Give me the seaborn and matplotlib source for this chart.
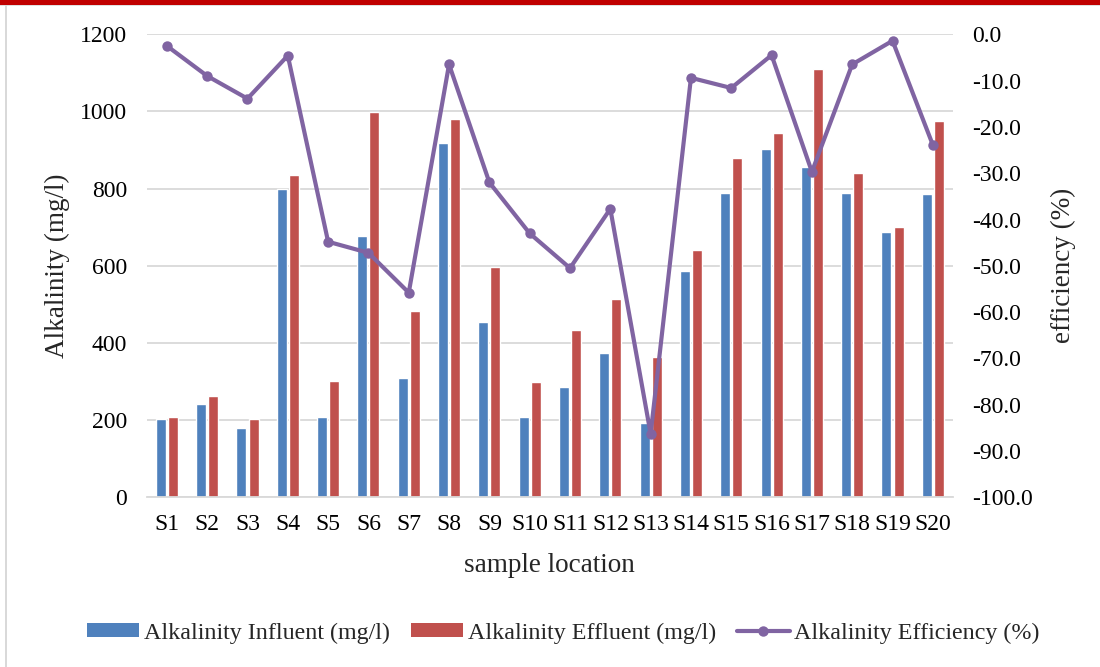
import matplotlib
matplotlib.use("Agg")
import matplotlib.pyplot as plt
import seaborn as sns
import pandas as pd
from matplotlib.lines import Line2D
from matplotlib.patches import Rectangle, Patch

samples = [f"S{i}" for i in range(1, 21)]
influent = [203, 241, 179, 800, 207, 677, 310, 918, 454, 207,
            287, 373, 193, 586, 789, 903, 856, 788, 688, 787]
effluent = [207, 263, 203, 835, 302, 999, 484, 980, 598, 298,
            434, 514, 363, 641, 880, 943, 1109, 840, 700, 975]
efficiency = [-2.5, -9.0, -13.9, -4.6, -44.8, -47.2, -55.8, -6.5, -32.0, -43.0,
              -50.5, -37.7, -86.3, -9.4, -11.6, -4.5, -29.7, -6.5, -1.4, -23.9]

lab_in = "Alkalinity Influent (mg/l)"
lab_out = "Alkalinity Effluent (mg/l)"
lab_eff = "Alkalinity Efficiency (%)"

C_BLUE = "#4F81BD"
C_RED = "#C0504D"
C_PURPLE = "#8064A2"

sns.set_theme(style="white")
plt.rcParams["font.family"] = ["Liberation Serif", "DejaVu Serif"]
FS = 17
FS_LAB = 19.5
FS_LEG = 17.3

df = pd.DataFrame({
    "sample": samples * 2,
    "value": influent + effluent,
    "series": [lab_in] * len(samples) + [lab_out] * len(samples),
})

fig = plt.figure(figsize=(11, 6.67), dpi=100)
ax = fig.add_axes([146.7 / 1100, 1 - 497.3 / 667, (953 - 146.7) / 1100, (497.3 - 34.3) / 667])

sns.barplot(data=df, x="sample", y="value", hue="series", order=samples,
            hue_order=[lab_in, lab_out], palette=[C_BLUE, C_RED],
            width=0.6, gap=0.17, ax=ax, legend=False, saturation=1)

ax.set_ylim(0, 1200)
ax.set_yticks(range(0, 1201, 200))
ax.set_xlim(-0.5, len(samples) - 0.5)
ax.yaxis.grid(True, color="#D9D9D9", linewidth=1.3)
ax.set_axisbelow(True)
for s in ["top", "left", "right"]:
    ax.spines[s].set_visible(False)
ax.spines["bottom"].set_color("#D9D9D9")
ax.spines["bottom"].set_linewidth(1.3)
ax.tick_params(axis="both", length=0, labelsize=FS, colors="black")
ax.tick_params(axis="y", pad=14)
ax.tick_params(axis="x", pad=12)
ax.set_ylabel("Alkalinity (mg/l)", fontsize=FS_LAB, labelpad=7)
ax.set_xlabel("sample location", fontsize=FS_LAB, labelpad=13)

ax2 = ax.twinx()
sns.lineplot(x=list(range(len(samples))), y=efficiency, ax=ax2, color=C_PURPLE,
             linewidth=3, marker="o", markersize=7.5, markeredgewidth=0, legend=False)
ax2.set_ylim(-100, 0)
ax2.set_yticks(range(-100, 1, 10))
ax2.set_yticklabels([f"{v:.1f}" for v in range(-100, 1, 10)])
for s in ["top", "left", "right", "bottom"]:
    ax2.spines[s].set_visible(False)
ax2.tick_params(axis="y", length=0, labelsize=FS, pad=14, colors="black")
ax2.set_ylabel("efficiency (%)", fontsize=FS_LAB, labelpad=13)
ax2.grid(False)

handles = [
    Patch(facecolor=C_BLUE, edgecolor="none"),
    Patch(facecolor=C_RED, edgecolor="none"),
    Line2D([0], [0], color=C_PURPLE, linewidth=3, marker="o", markersize=7.5, markeredgewidth=0),
]
fig.legend(handles, [lab_in, lab_out, lab_eff], loc="center", bbox_to_anchor=(0.512, 1 - 633 / 667),
           ncol=3, frameon=False, fontsize=FS_LEG, handlelength=2.2, handleheight=0.5,
           handletextpad=0.2, columnspacing=0.85)

# frame decorations: red top band and gray left border
fig.patches.append(Rectangle((0, 1 - 5 / 667), 1, 5 / 667, transform=fig.transFigure,
                             facecolor="#C00000", edgecolor="none", zorder=10))
fig.patches.append(Rectangle((0, 1 - 6 / 667), 1, 1 / 667, transform=fig.transFigure,
                             facecolor="#E0E0E0", edgecolor="none", zorder=10))
fig.patches.append(Rectangle((5 / 1100, 0), 2 / 1100, 1 - 5 / 667, transform=fig.transFigure,
                             facecolor="#D9D9D9", edgecolor="none", zorder=10))

fig.savefig("out.png", dpi=100)
